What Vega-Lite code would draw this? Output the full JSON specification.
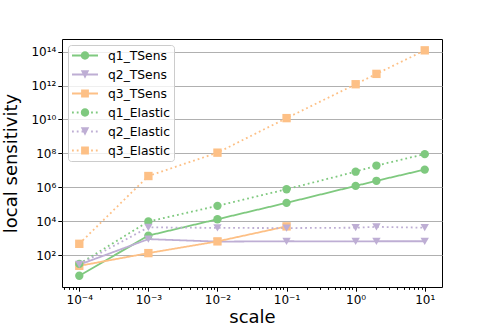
{
  "$schema": "https://vega.github.io/schema/vega-lite/v6.json",
  "width": 380,
  "height": 248,
  "autosize": {"type": "none"},
  "padding": {"left": 62, "top": 39, "right": 37, "bottom": 43},
  "config": {
    "font": "DejaVu Sans",
    "view": {"stroke": "#000000", "strokeWidth": 1},
    "axis": {
      "domain": false,
      "tickColor": "#000000",
      "tickWidth": 1,
      "tickSize": 4.2,
      "labelFontSize": 12,
      "labelColor": "#000000",
      "labelFont": "DejaVu Sans",
      "titleFont": "DejaVu Sans",
      "titleFontSize": 18,
      "titleFontWeight": "normal",
      "titleColor": "#000000",
      "labelOverlap": false,
      "labelFlush": false
    }
  },
  "data": {
    "values": [
      {"series": "q1_TSens", "scale": 0.0001, "sensitivity": 6},
      {"series": "q1_TSens", "scale": 0.001, "sensitivity": 1400},
      {"series": "q1_TSens", "scale": 0.01, "sensitivity": 13000},
      {"series": "q1_TSens", "scale": 0.1, "sensitivity": 120000},
      {"series": "q1_TSens", "scale": 1, "sensitivity": 1200000},
      {"series": "q1_TSens", "scale": 2, "sensitivity": 2400000},
      {"series": "q1_TSens", "scale": 10, "sensitivity": 11000000},
      {"series": "q2_TSens", "scale": 0.0001, "sensitivity": 27},
      {"series": "q2_TSens", "scale": 0.001, "sensitivity": 870},
      {"series": "q2_TSens", "scale": 0.01, "sensitivity": 620},
      {"series": "q2_TSens", "scale": 0.1, "sensitivity": 650},
      {"series": "q2_TSens", "scale": 1, "sensitivity": 640},
      {"series": "q2_TSens", "scale": 2, "sensitivity": 650},
      {"series": "q2_TSens", "scale": 10, "sensitivity": 650},
      {"series": "q3_TSens", "scale": 0.0001, "sensitivity": 23},
      {"series": "q3_TSens", "scale": 0.001, "sensitivity": 130},
      {"series": "q3_TSens", "scale": 0.01, "sensitivity": 640},
      {"series": "q3_TSens", "scale": 0.1, "sensitivity": 4900},
      {"series": "q1_Elastic", "scale": 0.0001, "sensitivity": 30},
      {"series": "q1_Elastic", "scale": 0.001, "sensitivity": 9500},
      {"series": "q1_Elastic", "scale": 0.01, "sensitivity": 80000},
      {"series": "q1_Elastic", "scale": 0.1, "sensitivity": 760000},
      {"series": "q1_Elastic", "scale": 1, "sensitivity": 8300000},
      {"series": "q1_Elastic", "scale": 2, "sensitivity": 19000000},
      {"series": "q1_Elastic", "scale": 10, "sensitivity": 90000000},
      {"series": "q2_Elastic", "scale": 0.0001, "sensitivity": 28},
      {"series": "q2_Elastic", "scale": 0.001, "sensitivity": 4300},
      {"series": "q2_Elastic", "scale": 0.01, "sensitivity": 4000},
      {"series": "q2_Elastic", "scale": 0.1, "sensitivity": 3900},
      {"series": "q2_Elastic", "scale": 1, "sensitivity": 4100},
      {"series": "q2_Elastic", "scale": 2, "sensitivity": 4600},
      {"series": "q2_Elastic", "scale": 10, "sensitivity": 4100},
      {"series": "q3_Elastic", "scale": 0.0001, "sensitivity": 460},
      {"series": "q3_Elastic", "scale": 0.001, "sensitivity": 4600000},
      {"series": "q3_Elastic", "scale": 0.01, "sensitivity": 110000000},
      {"series": "q3_Elastic", "scale": 0.1, "sensitivity": 12000000000},
      {"series": "q3_Elastic", "scale": 1, "sensitivity": 1200000000000},
      {"series": "q3_Elastic", "scale": 2, "sensitivity": 4900000000000},
      {"series": "q3_Elastic", "scale": 10, "sensitivity": 120000000000000}
    ]
  },
  "encoding": {
    "y": {
      "field": "sensitivity",
      "type": "quantitative",
      "title": "local sensitivity",
      "scale": {"type": "log", "domain": [1.3, 560000000000000], "nice": false, "zero": false},
      "axis": {
        "grid": true,
        "gridColor": "#b0b0b0",
        "gridWidth": 1,
        "labelPadding": 2,
        "titlePadding": 10,
        "values": [100, 10000, 1000000, 100000000, 10000000000, 1000000000000, 100000000000000],
        "labelExpr": "'10' + ['','','²','','⁴','','⁶','','⁸','','¹⁰','','¹²','','¹⁴'][round(log(datum.value)/LN10)]"
      }
    }
  },
  "layer": [
    {
      "mark": {"type": "line", "strokeWidth": 1.8, "strokeCap": "butt"},
      "encoding": {
        "x": {
          "field": "scale",
          "type": "quantitative",
          "scale": {"type": "log", "domain": [0.0000562, 17.78], "nice": false},
          "axis": null
        },
        "color": {
          "field": "series",
          "type": "nominal",
          "scale": {
            "domain": ["q1_TSens", "q2_TSens", "q3_TSens", "q1_Elastic", "q2_Elastic", "q3_Elastic"],
            "range": ["#7fc97f", "#beaed4", "#fdc086", "#7fc97f", "#beaed4", "#fdc086"]
          },
          "legend": null
        },
        "strokeDash": {
          "field": "series",
          "type": "nominal",
          "scale": {
            "domain": ["q1_TSens", "q2_TSens", "q3_TSens", "q1_Elastic", "q2_Elastic", "q3_Elastic"],
            "range": [[1, 0], [1, 0], [1, 0], [1.8, 3], [1.8, 3], [1.8, 3]]
          },
          "legend": null
        }
      }
    },
    {
      "mark": {"type": "point", "filled": true, "size": 70, "opacity": 1},
      "encoding": {
        "x": {
          "field": "scale",
          "type": "quantitative",
          "title": "scale",
          "scale": {"type": "log", "domain": [0.0000562, 17.78], "nice": false},
          "axis": {
            "orient": "bottom",
            "grid": false,
            "labelPadding": 3,
            "titlePadding": 3,
            "tickSize": 4.2,
            "values": [0.0001, 0.001, 0.01, 0.1, 1, 10],
            "labelExpr": "['10⁻⁴','10⁻³','10⁻²','10⁻¹','10⁰','10¹'][round(log(datum.value)/LN10) + 4]"
          }
        },
        "color": {
          "field": "series",
          "type": "nominal",
          "scale": {
            "domain": ["q1_TSens", "q2_TSens", "q3_TSens", "q1_Elastic", "q2_Elastic", "q3_Elastic"],
            "range": ["#7fc97f", "#beaed4", "#fdc086", "#7fc97f", "#beaed4", "#fdc086"]
          },
          "legend": null
        },
        "shape": {
          "field": "series",
          "type": "nominal",
          "scale": {
            "domain": ["q1_TSens", "q2_TSens", "q3_TSens", "q1_Elastic", "q2_Elastic", "q3_Elastic"],
            "range": ["circle", "triangle-down", "square", "circle", "triangle-down", "square"]
          },
          "legend": null
        }
      }
    },
    {
      "mark": {"type": "point", "filled": true, "size": 70, "opacity": 0},
      "encoding": {
        "x": {
          "field": "scale",
          "type": "quantitative",
          "scale": {"type": "log", "domain": [0.0000562, 17.78], "nice": false},
          "axis": {
            "orient": "bottom",
            "grid": false,
            "labels": false,
            "title": null,
            "tickSize": 2.4,
            "values": [0.00006, 0.00007, 0.00008, 0.00009, 0.0002, 0.0003, 0.0004, 0.0005, 0.0006, 0.0007, 0.0008, 0.0009, 0.002, 0.003, 0.004, 0.005, 0.006, 0.007, 0.008, 0.009, 0.02, 0.03, 0.04, 0.05, 0.06, 0.07, 0.08, 0.09, 0.2, 0.3, 0.4, 0.5, 0.6, 0.7, 0.8, 0.9, 2, 3, 4, 5, 6, 7, 8, 9]
          }
        },
        "color": {
          "field": "series",
          "type": "nominal",
          "scale": {
            "domain": ["q1_TSens", "q2_TSens", "q3_TSens", "q1_Elastic", "q2_Elastic", "q3_Elastic"],
            "range": ["#7fc97f", "#beaed4", "#fdc086", "#7fc97f", "#beaed4", "#fdc086"]
          },
          "legend": {
            "title": null,
            "orient": "top-left",
            "offset": 6,
            "padding": 4,
            "fillColor": "rgba(255,255,255,0.8)",
            "strokeColor": "#cccccc",
            "cornerRadius": 3,
            "labelFontSize": 12.3,
            "labelColor": "#000000",
            "labelFont": "DejaVu Sans",
            "labelOffset": 16.5,
            "symbolOffset": 6.5,
            "symbolSize": 169,
            "rowPadding": 6,
            "symbolStrokeWidth": 0,
            "symbolOpacity": 1
          }
        },
        "shape": {
          "field": "series",
          "type": "nominal",
          "scale": {
            "domain": ["q1_TSens", "q2_TSens", "q3_TSens", "q1_Elastic", "q2_Elastic", "q3_Elastic"],
            "range": [
              "M-2,-0.138H2V0.138H-2Z M0.646,0A0.646,0.646 0 1,1 -0.646,0A0.646,0.646 0 1,1 0.646,0Z",
              "M-2,-0.138H2V0.138H-2Z M-0.65,-0.65H0.65L0,0.65Z",
              "M-2,-0.138H2V0.138H-2Z M-0.6,-0.6H0.6V0.6H-0.6Z",
              "M-2,-0.138h0.277v0.277h-0.277Z M-1.266,-0.138h0.277v0.277h-0.277Z M-0.532,-0.138h0.277v0.277h-0.277Z M0.936,-0.138h0.277v0.277h-0.277Z M1.67,-0.138h0.277v0.277h-0.277Z M0.646,0A0.646,0.646 0 1,1 -0.646,0A0.646,0.646 0 1,1 0.646,0Z",
              "M-2,-0.138h0.277v0.277h-0.277Z M-1.266,-0.138h0.277v0.277h-0.277Z M-0.532,-0.138h0.277v0.277h-0.277Z M0.936,-0.138h0.277v0.277h-0.277Z M1.67,-0.138h0.277v0.277h-0.277Z M-0.65,-0.65H0.65L0,0.65Z",
              "M-2,-0.138h0.277v0.277h-0.277Z M-1.266,-0.138h0.277v0.277h-0.277Z M-0.532,-0.138h0.277v0.277h-0.277Z M0.936,-0.138h0.277v0.277h-0.277Z M1.67,-0.138h0.277v0.277h-0.277Z M-0.6,-0.6H0.6V0.6H-0.6Z"
            ]
          },
          "legend": {
            "title": null,
            "orient": "top-left",
            "offset": 6,
            "padding": 4,
            "fillColor": "rgba(255,255,255,0.8)",
            "strokeColor": "#cccccc",
            "cornerRadius": 3,
            "labelFontSize": 12.3,
            "labelColor": "#000000",
            "labelFont": "DejaVu Sans",
            "labelOffset": 16.5,
            "symbolOffset": 6.5,
            "symbolSize": 169,
            "rowPadding": 6,
            "symbolStrokeWidth": 0,
            "symbolOpacity": 1
          }
        }
      }
    }
  ],
  "resolve": {
    "scale": {"color": "independent", "shape": "independent", "strokeDash": "independent"},
    "axis": {"x": "independent"}
  }
}
